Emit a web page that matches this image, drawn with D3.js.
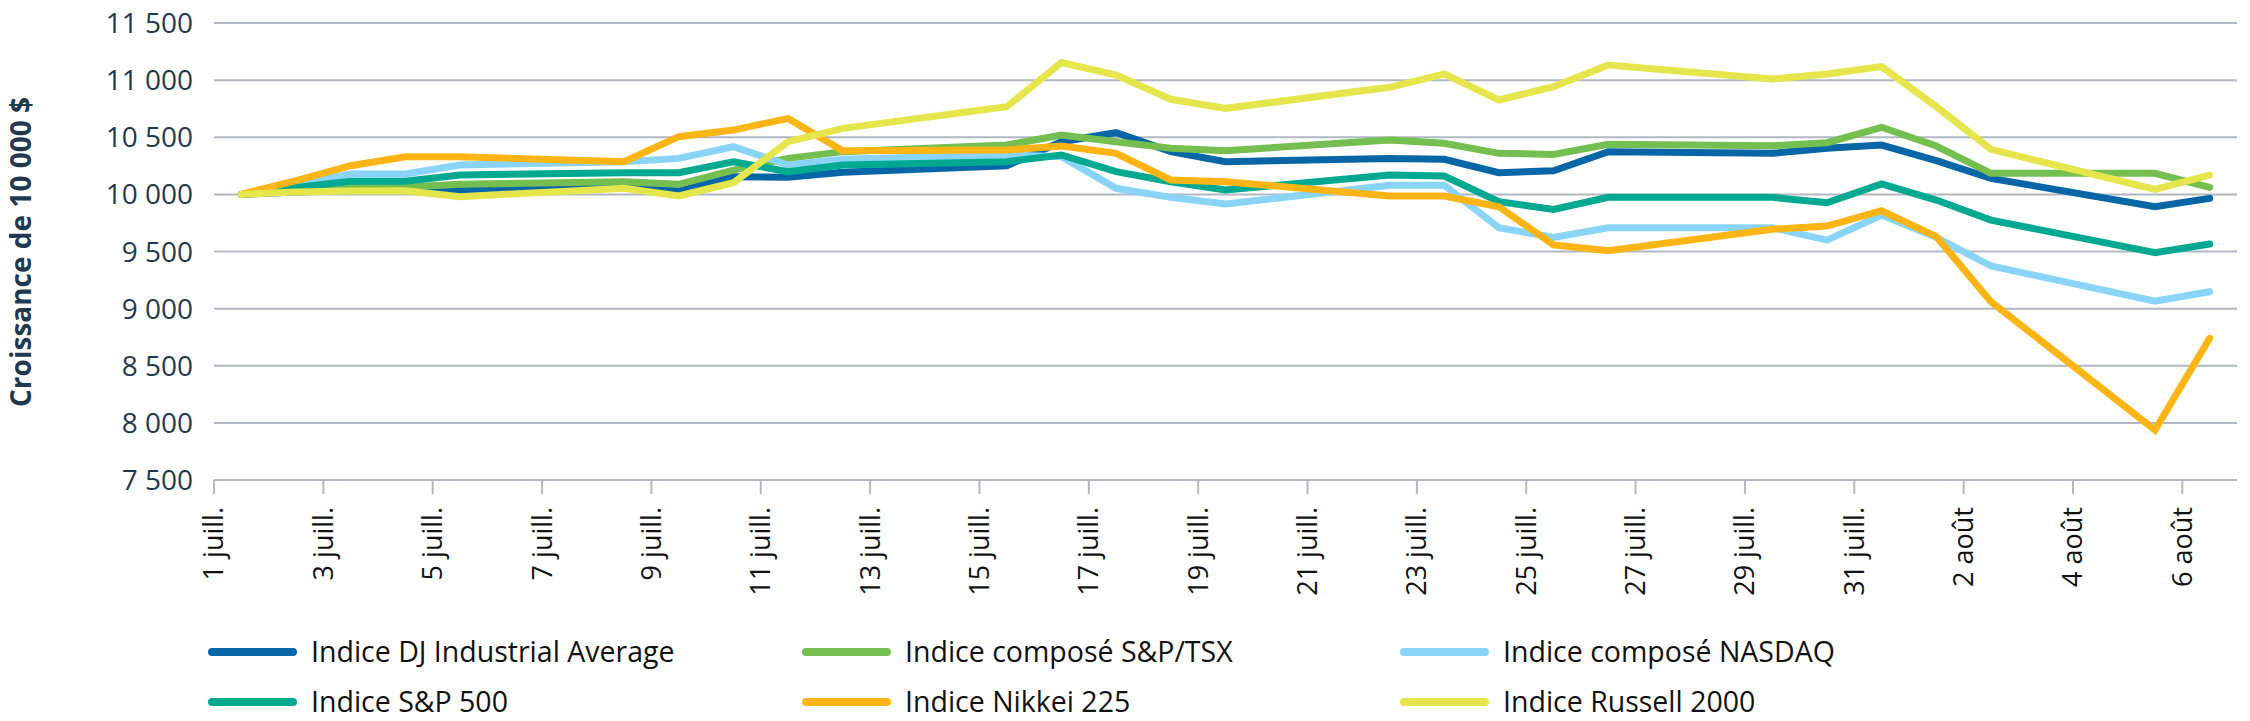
<!DOCTYPE html>
<html>
<head>
<meta charset="utf-8">
<script src="https://cdn.jsdelivr.net/npm/d3@7"></script>
<style>
  html, body { margin: 0; padding: 0; background: #ffffff; }
  svg { display: block; }
</style>
</head>
<body>
<svg id="chart" width="2250" height="721"></svg>
<script>
// ---------- DATA ----------
const dates = ["2024-07-01","2024-07-02","2024-07-03","2024-07-04","2024-07-05",
  "2024-07-08","2024-07-09","2024-07-10","2024-07-11","2024-07-12",
  "2024-07-15","2024-07-16","2024-07-17","2024-07-18","2024-07-19",
  "2024-07-22","2024-07-23","2024-07-24","2024-07-25","2024-07-26",
  "2024-07-29","2024-07-30","2024-07-31","2024-08-01","2024-08-02",
  "2024-08-05","2024-08-06"];

const seriesNames = ["Indice DJ Industrial Average","Indice composé S&P/TSX","Indice composé NASDAQ",
  "Indice S&P 500","Indice Nikkei 225","Indice Russell 2000"];

const djValues = [10000,10020,10038,10038,10032,10058,10029,10155,10150,10193,10251,10461,10540,10374,10286,10315,10307,10190,10207,10374,10359,10403,10432,10295,10140,9892,9965];
const tsxValues = [10000,10030,10060,10065,10088,10111,10088,10213,10315,10374,10432,10520,10461,10403,10382,10476,10447,10359,10350,10438,10426,10452,10587,10423,10184,10184,10061];
const nasdaqValues = [10000,10088,10178,10178,10257,10286,10315,10417,10257,10307,10345,10330,10053,9974,9916,10080,10080,9708,9624,9708,9708,9600,9819,9624,9373,9066,9148];
const sp500Values = [10000,10060,10114,10114,10169,10190,10190,10286,10199,10257,10286,10345,10199,10111,10038,10169,10161,9936,9869,9974,9974,9927,10091,9950,9775,9490,9565];
const nikkeiValues = [10000,10120,10251,10330,10330,10286,10505,10563,10665,10382,10388,10423,10359,10126,10111,9986,9986,9892,9557,9507,9694,9723,9857,9630,9061,7937,8740];
const russellValues = [10000,10021,10029,10032,9980,10053,9986,10102,10461,10578,10768,11153,11045,10832,10753,10937,11054,10826,10943,11132,11010,11054,11118,10768,10394,10044,10169];

const yTicks = [7500,8000,8500,9000,9500,10000,10500,11000,11500];
const xTickDates = ["2024-07-01","2024-07-03","2024-07-05","2024-07-07","2024-07-09","2024-07-11",
  "2024-07-13","2024-07-15","2024-07-17","2024-07-19","2024-07-21","2024-07-23","2024-07-25",
  "2024-07-27","2024-07-29","2024-07-31","2024-08-02","2024-08-04","2024-08-06"];
const xTickLabels = ["1 juill.","3 juill.","5 juill.","7 juill.","9 juill.","11 juill.","13 juill.",
  "15 juill.","17 juill.","19 juill.","21 juill.","23 juill.","25 juill.","27 juill.","29 juill.",
  "31 juill.","2 août","4 août","6 août"];
const yTitle = "Croissance de 10 000 $";

// ---------- STYLE ----------
const colors = ["#0866a7","#74bf50","#8ad5f7","#00a98f","#fdb515","#e4e64c"];
const allValues = [djValues, tsxValues, nasdaqValues, sp500Values, nikkeiValues, russellValues];
const font = "'Open Sans', sans-serif";
const gridColor = "#b1b8c2";

const parse = d3.timeParse("%Y-%m-%d");
const svg = d3.select("#chart");

const x = d3.scaleTime()
  .domain([parse("2024-07-01"), parse("2024-08-07")])
  .range([214, 2237]);
const y = d3.scaleLinear().domain([7500, 11500]).range([480, 23]);

const frFormat = d3.formatLocale({decimal: ",", thousands: " ", grouping: [3], currency: ["", " $"]}).format(",");

// grid lines
svg.append("g").selectAll("line").data(yTicks).join("line")
  .attr("x1", x.range()[0]).attr("x2", x.range()[1])
  .attr("y1", d => y(d)).attr("y2", d => y(d))
  .attr("stroke", gridColor).attr("stroke-width", 2);

// y labels
svg.append("g").selectAll("text").data(yTicks).join("text")
  .attr("x", 193).attr("y", d => y(d)).attr("dy", "0.36em")
  .attr("text-anchor", "end")
  .attr("font-family", font).attr("font-size", 28).attr("fill", "#1f3a4f")
  .text(d => frFormat(d));

// y title
svg.append("text")
  .attr("transform", "translate(31,252) rotate(-90)")
  .attr("text-anchor", "middle")
  .attr("font-family", font).attr("font-size", 28).attr("font-weight", 700)
  .attr("fill", "#1f3a4f")
  .text(yTitle);

// x ticks
const xt = svg.append("g");
xt.selectAll("line").data(xTickDates).join("line")
  .attr("x1", d => x(parse(d))).attr("x2", d => x(parse(d)))
  .attr("y1", 480).attr("y2", 494)
  .attr("stroke", gridColor).attr("stroke-width", 2);
xt.selectAll("text").data(xTickDates).join("text")
  .attr("transform", d => `translate(${x(parse(d))},507) rotate(-90)`)
  .attr("text-anchor", "end").attr("dy", "0.35em")
  .attr("font-family", font).attr("font-size", 27).attr("fill", "#111")
  .text((d, i) => xTickLabels[i]);

// lines (points placed mid-day)
const px = d => x(d3.timeHour.offset(parse(d), 12));
const line = d3.line().x((d, i) => px(dates[i])).y(d => y(d));
svg.append("g").selectAll("path").data(allValues).join("path")
  .attr("d", d => line(d))
  .attr("fill", "none")
  .attr("stroke", (d, i) => colors[i])
  .attr("stroke-width", 7)
  .attr("stroke-linejoin", "miter").attr("stroke-miterlimit", 3)
  .attr("stroke-linecap", "round");

// legend
const legPos = [[212,652],[806,652],[1404,652],[212,702],[806,702],[1404,702]];
const leg = svg.append("g").selectAll("g").data(seriesNames).join("g")
  .attr("transform", (d, i) => `translate(${legPos[i][0]},${legPos[i][1]})`);
leg.append("line").attr("x1", 0).attr("x2", 81).attr("y1", 0).attr("y2", 0)
  .attr("stroke", (d, i) => colors[i]).attr("stroke-width", 8).attr("stroke-linecap", "round");
leg.append("text").attr("x", 99).attr("dy", "0.35em")
  .attr("font-family", font).attr("font-size", 28.5).attr("fill", "#111")
  .text(d => d);
</script>
</body>
</html>
